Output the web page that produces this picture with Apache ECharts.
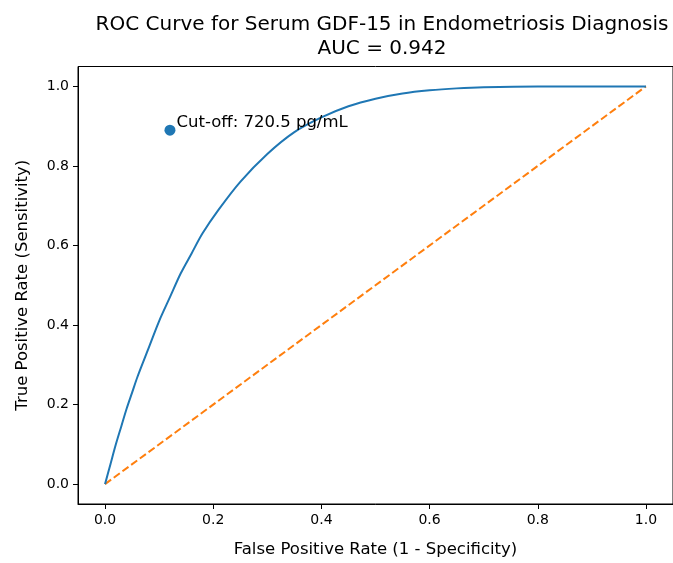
<!DOCTYPE html>
<html>
<head>
<meta charset="utf-8">
<script src="https://cdn.jsdelivr.net/npm/echarts@6/dist/echarts.min.js"></script>
<style>
html,body{margin:0;padding:0;background:#fff;}
#chart{width:673px;height:563px;}
</style>
</head>
<body>
<div id="chart"></div>
<script>
// ROC curve points
const fpr = [0, 0.01, 0.02, 0.03, 0.04, 0.05, 0.06, 0.08, 0.10, 0.12, 0.14, 0.16, 0.18, 0.21, 0.25, 0.30, 0.35, 0.40, 0.45, 0.50, 0.55, 0.60, 0.65, 0.70, 0.80, 0.90, 1.0];
const tpr = [0, 0.05, 0.10, 0.145, 0.19, 0.23, 0.27, 0.34, 0.41, 0.47, 0.53, 0.58, 0.63, 0.69, 0.76, 0.83, 0.885, 0.922, 0.95, 0.969, 0.982, 0.99, 0.995, 0.998, 1.0, 1.0, 1.0];
// chance diagonal
const diagX = [0, 1];
const diagY = [0, 1];
// optimal cut-off point
const cutoffX = [0.12];
const cutoffY = [0.89];
const cutoffLabel = 'Cut-off: 720.5 pg/mL';
const tickValues = [0, 0.2, 0.4, 0.6, 0.8, 1.0];
const titleLines = ['ROC Curve for Serum GDF-15 in Endometriosis Diagnosis', 'AUC = 0.942'];

const FONT = 'DejaVu Sans';
const chart = echarts.init(document.getElementById('chart'), null, {renderer: 'canvas'});

const axisCommon = {
  type: 'value',
  min: -0.05,
  max: 1.05,
  splitLine: {show: false},
  axisLine: {show: true, onZero: false, lineStyle: {color: '#000', width: 1}},
  axisTick: {show: true, customValues: tickValues, length: 5, inside: false, lineStyle: {color: '#000', width: 1}},
  axisLabel: {customValues: tickValues, color: '#000', fontFamily: FONT, fontSize: 14, margin: 9,
    formatter: v => Number(v).toFixed(1)},
  nameLocation: 'middle',
  nameTextStyle: {color: '#000', fontFamily: FONT, fontSize: 16.5}
};

chart.setOption({
  animation: false,
  backgroundColor: '#fff',
  title: {
    text: titleLines.join('\n'),
    left: 377,
    top: 8,
    textAlign: 'center',
    textStyle: {fontFamily: FONT, fontSize: 20, fontWeight: 'normal', color: '#000', lineHeight: 24}
  },
  grid: {
    left: 78, top: 66.5, width: 598.7, height: 444.4,
    show: true, borderColor: '#000', borderWidth: 1, containLabel: false
  },
  xAxis: Object.assign({}, axisCommon, {
    name: 'False Positive Rate (1 - Specificity)',
    nameGap: 37,
    position: 'bottom'
  }),
  yAxis: Object.assign({}, axisCommon, {
    name: 'True Positive Rate (Sensitivity)',
    nameGap: 47,
    position: 'left'
  }),
  series: [
    {
      type: 'line',
      data: fpr.map((x, i) => [x, tpr[i]]),
      smooth: 0.3,
      showSymbol: false,
      lineStyle: {color: '#1f77b4', width: 2},
      z: 3
    },
    {
      type: 'line',
      data: diagX.map((x, i) => [x, diagY[i]]),
      showSymbol: false,
      lineStyle: {color: '#ff7f0e', width: 2, type: [7.5, 3.3]},
      z: 2
    },
    {
      type: 'scatter',
      data: cutoffX.map((x, i) => [x, cutoffY[i]]),
      symbolSize: 11,
      itemStyle: {color: '#1f77b4', opacity: 1},
      label: {
        show: true,
        position: 'right',
        distance: 1,
        offset: [0, -7],
        formatter: cutoffLabel,
        color: '#000',
        fontFamily: FONT,
        fontSize: 16.5
      },
      z: 4
    }
  ]
});
</script>
</body>
</html>
